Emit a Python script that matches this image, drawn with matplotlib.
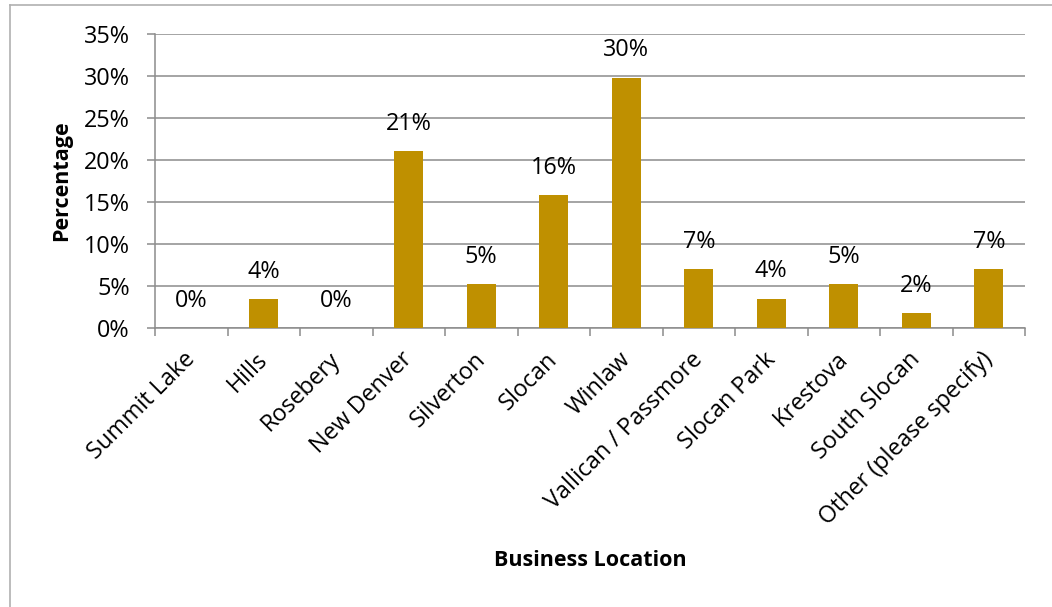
import matplotlib
matplotlib.use("Agg")
import matplotlib.pyplot as plt
from matplotlib.lines import Line2D
from matplotlib.ticker import FixedLocator
from matplotlib.transforms import ScaledTranslation

categories = ["Summit Lake", "Hills", "Rosebery", "New Denver", "Silverton", "Slocan",
              "Winlaw", "Vallican / Passmore", "Slocan Park", "Krestova", "South Slocan",
              "Other (please specify)"]
values = [0.0, 3.5, 0.0, 21.05, 5.26, 15.79, 29.82, 7.02, 3.51, 5.26, 1.75, 7.02]
labels = ["0%", "4%", "0%", "21%", "5%", "16%", "30%", "7%", "4%", "5%", "2%", "7%"]
yticks = [0, 5, 10, 15, 20, 25, 30, 35]
ytick_labels = ["0%", "5%", "10%", "15%", "20%", "25%", "30%", "35%"]

plt.rcParams['font.family'] = ['Open Sans', 'DejaVu Sans']
FS = 16.8
FT = 15.5
W, H = 1052, 607
fig = plt.figure(figsize=(W / 100, H / 100), dpi=100)
ax = fig.add_axes([155 / W, 1 - 328 / H, (1025 - 155) / W, (328 - 34) / H])

gray = "#8c8c8c"
x = list(range(len(categories)))
ax.bar(x, values, width=0.4, color="#BF9000", zorder=3)
ax.set_xlim(-0.5, len(categories) - 0.5)
ax.set_ylim(0, 35)
ax.set_yticks(yticks)
ax.set_yticklabels(ytick_labels, fontsize=FS)
ax.yaxis.grid(True, color=gray, linewidth=1.1, zorder=0)
ax.set_axisbelow(True)

ax.set_xticks(x)
ax.set_xticklabels(categories, rotation=45, ha='right', rotation_mode='anchor', fontsize=FS)
ax.tick_params(axis='x', length=0, pad=14)
ax.xaxis.set_minor_locator(FixedLocator([i - 0.5 for i in range(len(categories) + 1)]))
ax.tick_params(axis='x', which='minor', length=6, color=gray, width=1.1)
ax.tick_params(axis='y', length=6, color=gray, width=1.1, pad=12)
shift = ScaledTranslation(-8 / 100, 0, fig.dpi_scale_trans)
for t in ax.get_xticklabels():
    t.set_transform(t.get_transform() + shift)

for s in ['top', 'right']:
    ax.spines[s].set_visible(False)
for s in ['left', 'bottom']:
    ax.spines[s].set_color(gray)
    ax.spines[s].set_linewidth(1.1)

for xi, v, lab in zip(x, values, labels):
    ax.annotate(lab, (xi, v), xytext=(0, 19.5), textcoords='offset points',
                ha='center', va='center', fontsize=FS)

fig.text(62 / W, 1 - 181 / H, "Percentage", rotation=90, ha='center', va='center',
         fontsize=FT, fontweight='bold')
fig.text(590 / W, 1 - 560 / H, "Business Location", ha='center', va='center',
         fontsize=FT, fontweight='bold')

# outer chart border (left and top visible)
fig.add_artist(Line2D([10 / W, 10 / W], [0, 1 - 5 / H], transform=fig.transFigure,
                      color="#b0b0b0", linewidth=1.2))
fig.add_artist(Line2D([10 / W, 1], [1 - 5 / H, 1 - 5 / H], transform=fig.transFigure,
                      color="#b0b0b0", linewidth=1.2))

fig.savefig("out.png", dpi=100)
